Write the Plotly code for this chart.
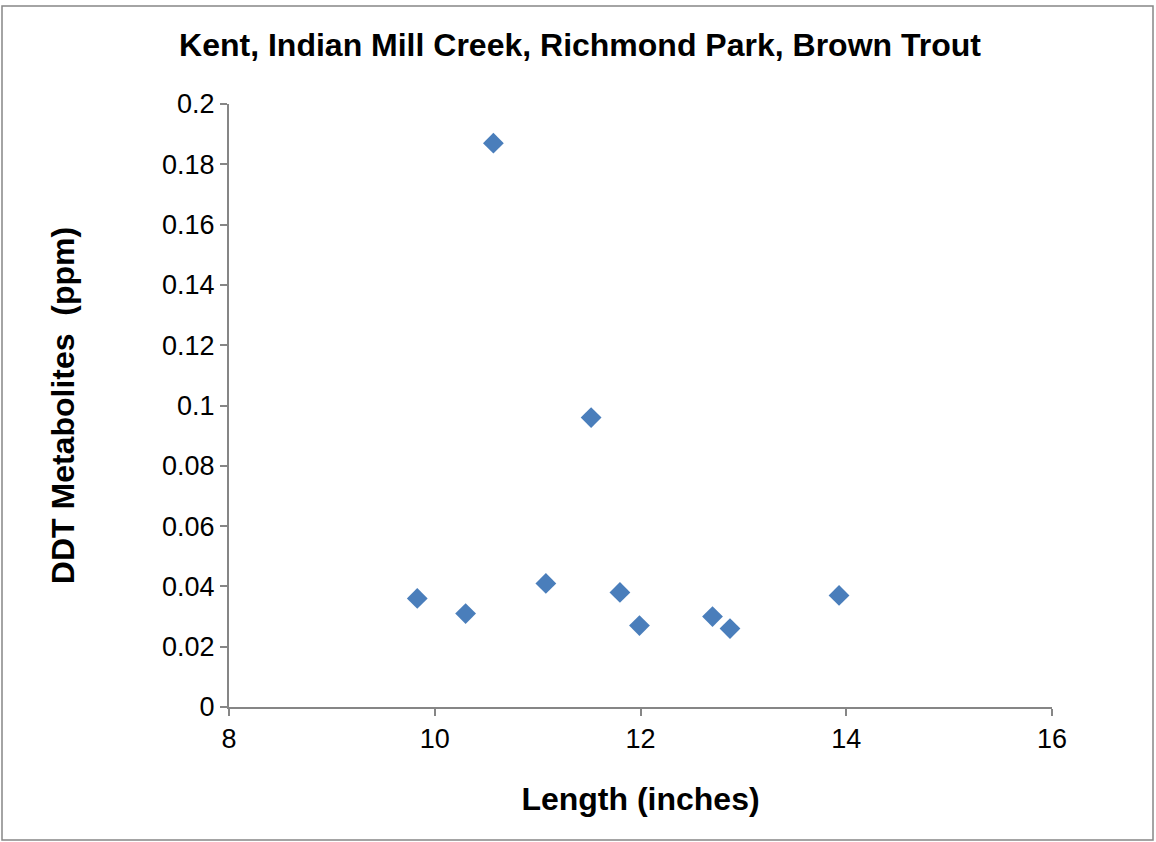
import plotly.graph_objects as go

length_in = [9.83, 10.30, 10.57, 11.08, 11.52, 11.80, 11.99, 12.70, 12.87, 13.93]
ddt_ppm = [0.036, 0.031, 0.187, 0.041, 0.096, 0.038, 0.027, 0.030, 0.026, 0.037]
x_ticks = [8, 10, 12, 14, 16]
y_ticks = [0, 0.02, 0.04, 0.06, 0.08, 0.1, 0.12, 0.14, 0.16, 0.18, 0.2]
y_tick_labels = ["0", "0.02", "0.04", "0.06", "0.08", "0.1", "0.12", "0.14", "0.16", "0.18", "0.2"]

W, H = 1156, 842
L, R, T, B = 229, 104, 104, 135
pw, ph = W - L - R, H - T - B

def px(x):
    return (x - L) / pw

def py(y):
    return (H - B - y) / ph

fig = go.Figure(go.Scatter(
    x=length_in, y=ddt_ppm, mode="markers",
    marker=dict(symbol="diamond", size=16, color="#4A7EBB", line=dict(width=0)),
    showlegend=False,
))

font = "Liberation Sans, Arial, sans-serif"
axis_gray = "#868686"
fig.update_layout(
    width=W, height=H,
    margin=dict(l=L, r=R, t=T, b=B),
    paper_bgcolor="white", plot_bgcolor="white",
    font=dict(family=font, size=27, color="black"),
    title=dict(text="<b>Kent, Indian Mill Creek, Richmond Park, Brown Trout</b>",
               x=580 / W, xref="container", xanchor="center", y=1 - 45 / H, yanchor="middle",
               font=dict(size=32, family=font)),
    xaxis=dict(range=[8, 16], tickvals=x_ticks, ticks="outside", ticklen=7,
               tickcolor=axis_gray, tickwidth=2, showline=True, linecolor=axis_gray, linewidth=2,
               showgrid=False, zeroline=False,
               title=dict(text="<b>Length (inches)</b>", font=dict(size=32), standoff=34)),
    yaxis=dict(range=[0, 0.2], tickvals=y_ticks, ticktext=y_tick_labels,
               ticks="outside", ticklen=7, tickcolor=axis_gray, tickwidth=2, showline=True,
               linecolor=axis_gray, linewidth=2, showgrid=False, zeroline=False,
               title=dict(text="<b>DDT Metabolites  (ppm)</b>", font=dict(size=32), standoff=78)),
    shapes=[dict(type="rect", xref="paper", yref="paper",
                 x0=px(2), x1=px(1153), y0=py(840), y1=py(6),
                 line=dict(color=axis_gray, width=1.5), fillcolor="rgba(0,0,0,0)")],
)

fig.write_html("out.html", config={"displayModeBar": False},
               post_script="document.body.style.margin='0';")
